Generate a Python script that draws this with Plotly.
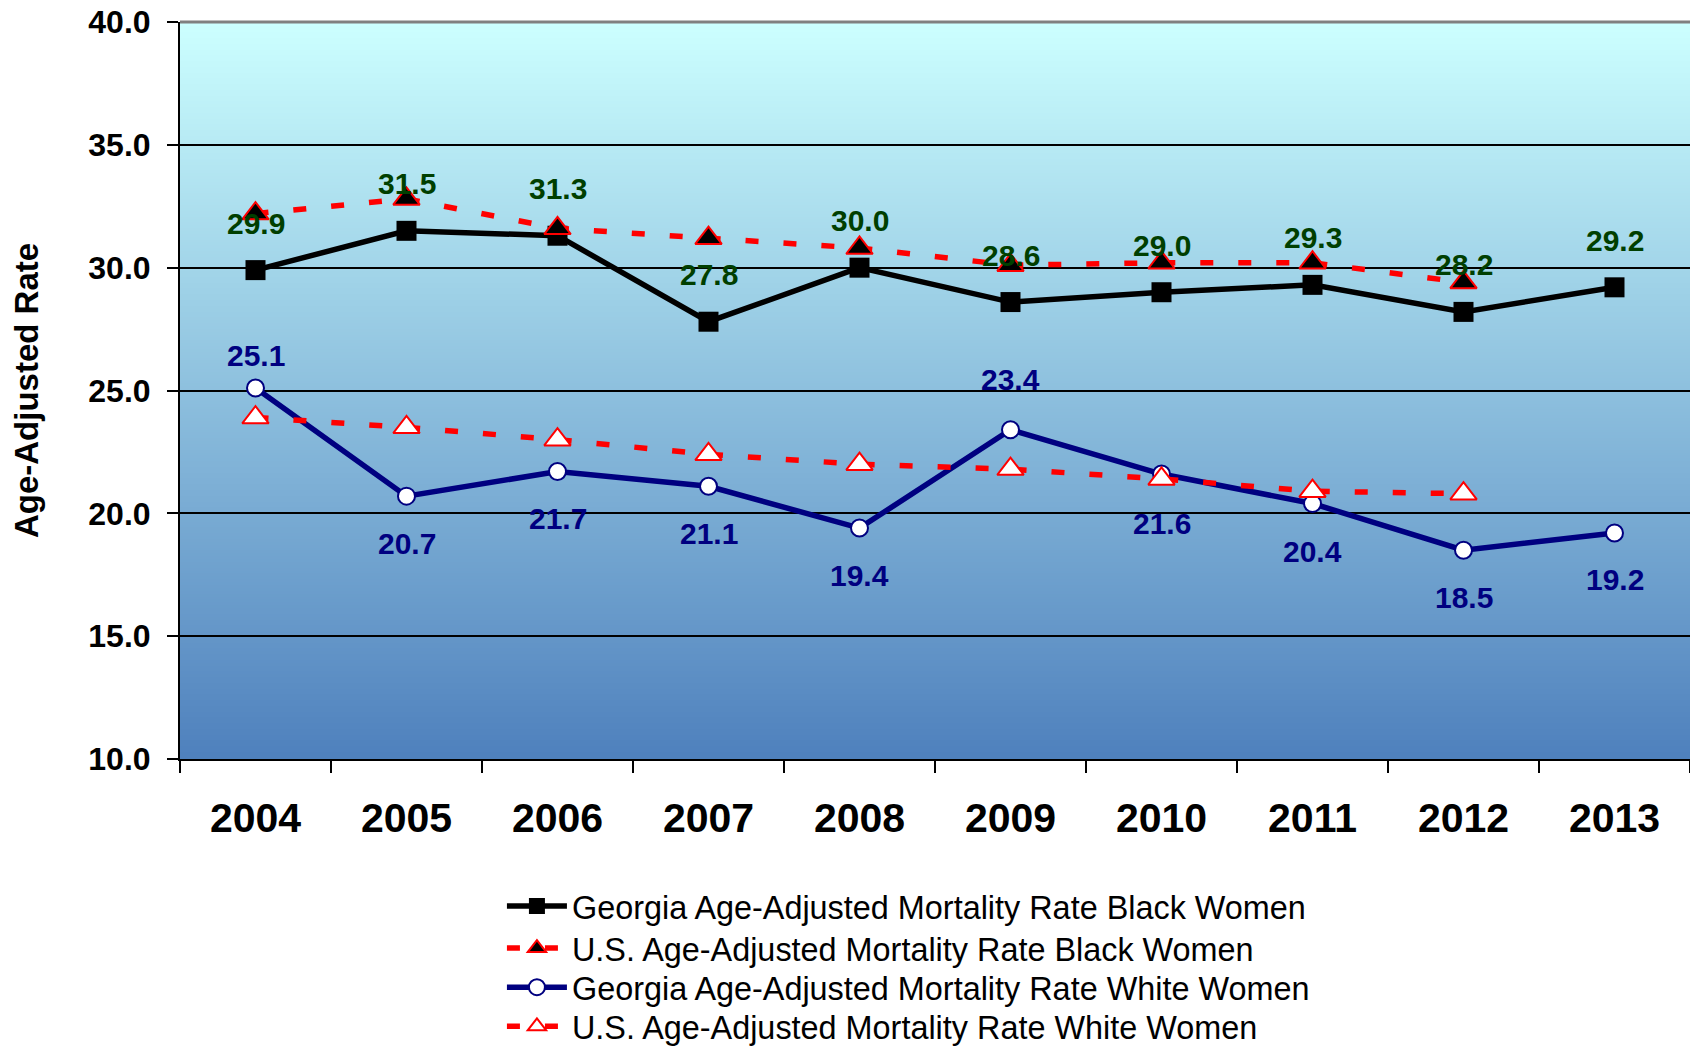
import base64
import struct
import zlib

import plotly.graph_objects as go

# ---------------- data ----------------
years = ["2004", "2005", "2006", "2007", "2008", "2009", "2010", "2011", "2012", "2013"]
us_years = ["2004", "2005", "2006", "2007", "2008", "2009", "2010", "2011", "2012"]

ga_black = [29.9, 31.5, 31.3, 27.8, 30.0, 28.6, 29.0, 29.3, 28.2, 29.2]
us_black = [32.2, 32.8, 31.6, 31.2, 30.8, 30.1, 30.2, 30.2, 29.4]
ga_white = [25.1, 20.7, 21.7, 21.1, 19.4, 23.4, 21.6, 20.4, 18.5, 19.2]
us_white = [23.9, 23.5, 23.0, 22.4, 22.0, 21.8, 21.4, 20.9, 20.8]

names = [
    "Georgia Age-Adjusted Mortality Rate Black Women",
    "U.S. Age-Adjusted Mortality Rate Black Women",
    "Georgia Age-Adjusted Mortality Rate White Women",
    "U.S. Age-Adjusted Mortality Rate White Women",
]
y_title = "Age-Adjusted Rate"

# label placement (style): pixel shift of each value label from its point
black_label_shift = 47
white_label_shift = [33, -47, -47, -47, -47, 50, -49, -48, -47, -47]

FONT = "Arial, Liberation Sans, sans-serif"


# ---------------- gradient background image ----------------
def gradient_png(top, bottom, n=256):
    raw = b""
    for i in range(n):
        t = i / (n - 1)
        rgb = bytes(int(round(top[k] + (bottom[k] - top[k]) * t)) for k in range(3))
        raw += b"\x00" + rgb

    def chunk(tag, data):
        c = struct.pack(">I", len(data)) + tag + data
        return c + struct.pack(">I", zlib.crc32(tag + data) & 0xFFFFFFFF)

    png = b"\x89PNG\r\n\x1a\n"
    png += chunk(b"IHDR", struct.pack(">IIBBBBB", 1, n, 8, 2, 0, 0, 0))
    png += chunk(b"IDAT", zlib.compress(raw))
    png += chunk(b"IEND", b"")
    return "data:image/png;base64," + base64.b64encode(png).decode()


bg = gradient_png((204, 255, 255), (79, 129, 189))

fig = go.Figure()

fig.add_trace(go.Scatter(
    x=years, y=ga_black, name=names[0], mode="lines+markers", legend="legend",
    line=dict(color="black", width=5.5),
    marker=dict(symbol="square", size=20, color="black"),
))
fig.add_trace(go.Scatter(
    x=us_years, y=us_black, name=names[1], mode="lines+markers", legend="legend2",
    line=dict(color="#FF0000", width=5.5, dash="13px,25px"),
    marker=dict(symbol="triangle-up", size=23, color="black",
                line=dict(color="#FF0000", width=2)),
))
fig.add_trace(go.Scatter(
    x=years, y=ga_white, name=names[2], mode="lines+markers", legend="legend3",
    line=dict(color="#000080", width=5.5),
    marker=dict(symbol="circle", size=17, color="white",
                line=dict(color="#000080", width=2)),
))
fig.add_trace(go.Scatter(
    x=us_years, y=us_white, name=names[3], mode="lines+markers", legend="legend4",
    line=dict(color="#FF0000", width=5.5, dash="13px,25px"),
    marker=dict(symbol="triangle-up", size=23, color="white",
                line=dict(color="#FF0000", width=2)),
))

annotations = []
for i, v in enumerate(ga_black):
    annotations.append(dict(
        x=i, y=v, xref="x", yref="y", text=f"{v:.1f}", showarrow=False,
        yshift=black_label_shift, yanchor="middle",
        font=dict(family=FONT, size=30, color="#003F00", weight="bold"),
    ))
for i, (v, s) in enumerate(zip(ga_white, white_label_shift)):
    annotations.append(dict(
        x=i, y=v, xref="x", yref="y", text=f"{v:.1f}", showarrow=False,
        yshift=s, yanchor="middle",
        font=dict(family=FONT, size=30, color="#000080", weight="bold"),
    ))

legend_style = dict(
    x=0.2132, xanchor="left", yanchor="middle",
    font=dict(family=FONT, size=32.4, color="black"),
    bgcolor="rgba(0,0,0,0)", itemwidth=60,
)

fig.update_layout(
    width=1690, height=1047,
    margin=dict(l=180, r=0, t=22, b=288, pad=0, autoexpand=False),
    paper_bgcolor="white",
    plot_bgcolor="rgba(0,0,0,0)",
    font=dict(family=FONT, color="black"),
    images=[dict(source=bg, xref="paper", yref="paper", x=0, y=1,
                 sizex=1, sizey=1, sizing="stretch", xanchor="left",
                 yanchor="top", layer="below")],
    shapes=[dict(type="line", xref="paper", yref="paper", x0=0, x1=1, y0=1, y1=1,
                 line=dict(color="#808080", width=3))],
    annotations=annotations,
    showlegend=True,
    legend=dict(y=-0.2000, **legend_style),
    legend2=dict(y=-0.2571, **legend_style),
    legend3=dict(y=-0.3102, **legend_style),
    legend4=dict(y=-0.3633, **legend_style),
)

fig.update_xaxes(
    type="category", categoryorder="array", categoryarray=years,
    range=[-0.5, 9.5],
    tickson="boundaries", ticks="outside", ticklen=12, tickwidth=2, tickcolor="black",
    showline=True, linecolor="black", linewidth=2,
    showgrid=False, zeroline=False,
    tickfont=dict(family=FONT, size=41, color="black", weight="bold"),
    ticklabelstandoff=22,
)
fig.update_yaxes(
    range=[10, 40], dtick=5, tick0=10, tickformat=".1f",
    ticks="outside", ticklen=11, tickwidth=2, tickcolor="black",
    showline=True, linecolor="black", linewidth=2,
    showgrid=True, gridcolor="black", gridwidth=2, zeroline=False,
    tickfont=dict(family=FONT, size=32, color="black", weight="bold"),
    ticklabelstandoff=10,
    title=dict(text=y_title, standoff=40,
               font=dict(family=FONT, size=33, color="black", weight="bold")),
)

fig.write_html(
    "out.html",
    config={"displayModeBar": False},
    post_script="document.body.style.margin='0px';document.body.style.overflow='hidden';",
)
